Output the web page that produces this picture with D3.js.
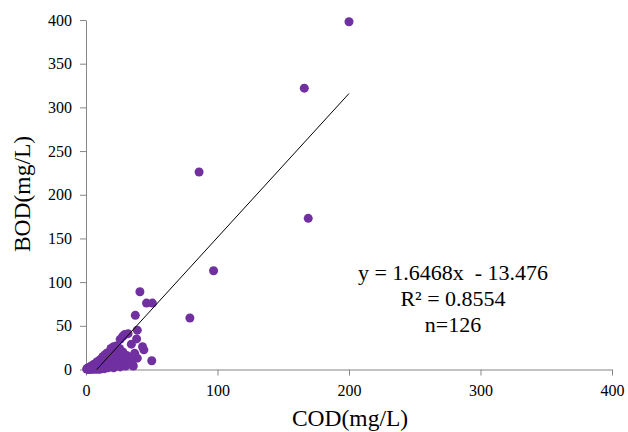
<!DOCTYPE html>
<html>
<head>
<meta charset="utf-8">
<script src="https://cdn.jsdelivr.net/npm/d3@7"></script>
<style>
  body { margin: 0; background: #fff; }
  svg text { font-family: "Liberation Serif", "Times New Roman", serif; fill: #000; }
</style>
</head>
<body>
<div id="chart"></div>
<script>
// COD / BOD samples (mg/L)
const cod = [
  200, 166, 86, 169, 97, 79, 41, 46, 50.5, 37.5, 39, 38.5, 34.5, 43, 44, 37, 39, 50, 29.5, 32, 26, 28,
  0.5, 1, 1.5, 2, 2.5, 3, 3, 3.5, 4, 4, 4.5, 5, 5, 5.5, 6, 6, 6.5, 7, 7, 7.5,
  8, 8, 8.5, 9, 9, 9.5, 10, 10, 10.5, 11, 11, 11.5, 12, 12, 12.5, 13, 13, 13.5,
  14, 14, 14.5, 15, 15, 15.5, 16, 16, 16.5, 17, 17, 17.5, 18, 18, 18.5, 19, 19, 20,
  20, 20.5, 21, 21, 22, 22, 22.5, 23, 23, 24, 24, 25, 25, 25.5, 26, 26, 27, 27,
  28, 28, 29, 30, 30, 31, 32, 33, 34, 35, 36, 19, 21, 23, 2, 1, 3, 5, 6, 8, 4, 10
];
const bod = [
  398, 322, 226, 173, 113, 59, 89, 76, 76, 62, 45, 35, 29, 26, 22.5, 18.5, 13, 10, 40, 41, 34.5, 38,
  0.5, 1.5, 0.3, 2, 1, 3, 0.5, 1.8, 4, 1, 2.5, 0.5, 3.5, 5, 1.5, 6, 3, 0.8, 4.5, 7,
  2, 5.5, 9, 1, 3.5, 6.5, 2.5, 8, 11, 4, 0.5, 6, 9.5, 13, 2, 5, 15, 8,
  11, 1, 17, 4, 7, 13, 9, 19, 2, 15, 6, 11, 18, 3, 8, 13, 21, 5,
  16, 10, 19, 2, 13, 22, 7, 17, 4, 11, 21, 15, 8, 24, 3, 18, 11, 6,
  14, 20, 8, 4, 12, 16, 9, 6, 13, 10, 4, 24, 26, 27, 0.2, 0.8, 2, 1, 0.5, 0.3, 0.2, 0.4
];
const xTicks = [0, 100, 200, 300, 400];
const yTicks = [0, 50, 100, 150, 200, 250, 300, 350, 400];
const slope = 1.6468, intercept = -13.476;
const eqLines = ["y = 1.6468x  - 13.476", "R² = 0.8554", "n=126"];

const W = 628, H = 432;
const serif = '"Liberation Serif", "Times New Roman", serif';
const svg = d3.select("#chart").append("svg").attr("width", W).attr("height", H);

const x = d3.scaleLinear().domain([0, 400]).range([86, 612]);
const y = d3.scaleLinear().domain([0, 400]).range([369.5, 20]);

const axisColor = "#868686";

// x axis
const xAxis = svg.append("g")
  .attr("transform", "translate(0," + y(0) + ")")
  .call(d3.axisBottom(x).tickValues(xTicks).tickSize(6).tickSizeOuter(0).tickPadding(9));
xAxis.attr("font-family", serif).attr("font-size", 16);
xAxis.select(".domain").attr("stroke", axisColor);
xAxis.selectAll(".tick line").attr("stroke", axisColor);
xAxis.selectAll("text").attr("fill", "#000");

// y axis
const yAxis = svg.append("g")
  .attr("transform", "translate(" + x(0) + ",0)")
  .call(d3.axisLeft(y).tickValues(yTicks).tickSize(6).tickSizeOuter(0).tickPadding(8));
yAxis.attr("font-family", serif).attr("font-size", 16);
yAxis.select(".domain").attr("stroke", axisColor);
yAxis.selectAll(".tick line").attr("stroke", axisColor);
yAxis.selectAll("text").attr("fill", "#000");

// points
const pts = cod.map((c, i) => ({ c: c, b: bod[i] }));
svg.append("g").selectAll("circle")
  .data(pts)
  .enter().append("circle")
  .attr("cx", d => x(d.c))
  .attr("cy", d => y(d.b))
  .attr("r", 4.5)
  .attr("fill", "#7030A0");

// trend line
const x0 = -intercept / slope, x1 = 200;
svg.append("line")
  .attr("x1", x(x0)).attr("y1", y(slope * x0 + intercept))
  .attr("x2", x(x1)).attr("y2", y(slope * x1 + intercept))
  .attr("stroke", "#000").attr("stroke-width", 1);

// equation
svg.append("g").selectAll("text")
  .data(eqLines)
  .enter().append("text")
  .attr("x", 453)
  .attr("y", (d, i) => 280 + i * 26)
  .attr("text-anchor", "middle")
  .style("font-size", "22px")
  .style("white-space", "pre")
  .text(d => d);

// axis titles
svg.append("text")
  .attr("x", 350).attr("y", 426)
  .attr("text-anchor", "middle")
  .style("font-size", "23.5px")
  .text("COD(mg/L)");
svg.append("text")
  .attr("transform", "translate(30,194) rotate(-90)")
  .attr("text-anchor", "middle")
  .style("font-size", "23.5px")
  .text("BOD(mg/L)");
</script>
</body>
</html>
